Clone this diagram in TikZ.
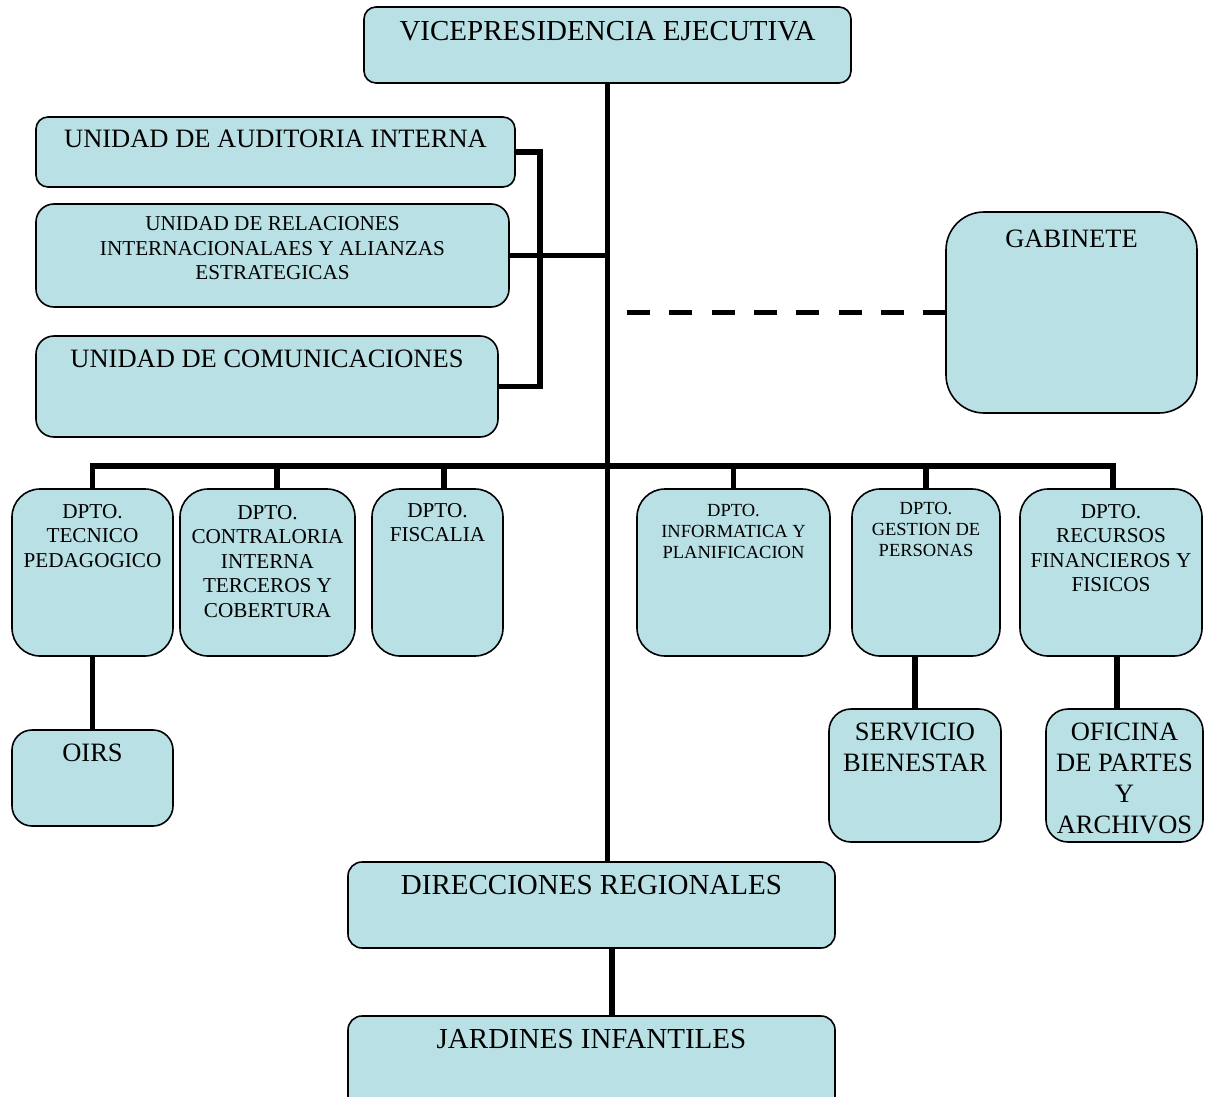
\documentclass[tikz,border=0pt]{standalone}
\usepackage{fontspec}
\setmainfont{Liberation Serif}
\definecolor{boxfill}{RGB}{185,224,228}
\begin{document}
\begin{tikzpicture}[x=1pt,y=-1pt,
  box/.style={draw=black, line width=1.6pt, fill=boxfill, inner sep=0pt, rounded corners=#1},
  box/.default=14pt,
  lbl/.style={anchor=north, inner sep=0pt, align=center, font=#1},
  fA/.style={lbl=\fontsize{29}{33}\selectfont},
  fB/.style={lbl=\fontsize{26.5}{31}\selectfont},
  fC/.style={lbl=\fontsize{21.2}{24.5}\selectfont},
  fD/.style={lbl=\fontsize{18.5}{21}\selectfont},
  conn/.style={draw=black, line width=5.5pt, line join=miter}
]
\useasboundingbox (0,0) rectangle (1205,1097);

% top
\node[box=12pt, minimum width=487pt, minimum height=76pt,
  label={[fA,yshift=-15pt]north:VICEPRESIDENCIA EJECUTIVA}] (vp) at (607.5,45) {};

% staff units
\node[box=12pt, minimum width=479pt, minimum height=70pt,
  label={[fB,yshift=-14pt]north:UNIDAD DE AUDITORIA INTERNA}] (au) at (275.5,152) {};
\node[box=18pt, minimum width=473pt, minimum height=103pt,
  label={[fC,yshift=-13.5pt]north:UNIDAD DE RELACIONES\\INTERNACIONALAES Y ALIANZAS\\ESTRATEGICAS}] (re) at (272.5,255.5) {};
\node[box=18pt, minimum width=462pt, minimum height=101pt,
  label={[fB,yshift=-15pt]north:UNIDAD DE COMUNICACIONES}] (co) at (267,386.5) {};
\node[box=38pt, minimum width=251pt, minimum height=201pt,
  label={[fB,yshift=-19pt]north:GABINETE}] (ga) at (1071.5,312.5) {};

% departments
\node[box=28pt, minimum width=161pt, minimum height=167pt,
  label={[fC,yshift=-16pt]north:DPTO.\\TECNICO\\PEDAGOGICO}] (tp) at (92.5,572.5) {};
\node[box=28pt, minimum width=175pt, minimum height=167pt,
  label={[fC,yshift=-17pt]north:DPTO.\\CONTRALORIA\\INTERNA\\TERCEROS Y\\COBERTURA}] (ci) at (267.5,572.5) {};
\node[box=28pt, minimum width=131pt, minimum height=167pt,
  label={[fC,yshift=-15pt]north:DPTO.\\FISCALIA}] (fi) at (437.5,572.5) {};
\node[box=28pt, minimum width=193pt, minimum height=167pt,
  label={[fD,yshift=-16pt]north:DPTO.\\INFORMATICA Y\\PLANIFICACION}] (ip) at (733.5,572.5) {};
\node[box=28pt, minimum width=148pt, minimum height=167pt,
  label={[fD,yshift=-14pt]north:DPTO.\\GESTION DE\\PERSONAS}] (gp) at (926,572.5) {};
\node[box=28pt, minimum width=182pt, minimum height=167pt,
  label={[fC,yshift=-16pt]north:DPTO.\\RECURSOS\\FINANCIEROS Y\\FISICOS}] (rf) at (1111,572.5) {};

% sub units
\node[box=20pt, minimum width=161pt, minimum height=96pt,
  label={[fB,yshift=-15pt]north:OIRS}] (oi) at (92.5,778) {};
\node[box=22pt, minimum width=172pt, minimum height=133pt,
  label={[fB,yshift=-15pt]north:SERVICIO\\BIENESTAR}] (sb) at (915,775.5) {};
\node[box=22pt, minimum width=157pt, minimum height=133pt,
  label={[lbl=\fontsize{26.5}{30.7}\selectfont,yshift=-15pt]north:OFICINA\\DE PARTES\\Y\\ARCHIVOS}] (op) at (1124.5,775.5) {};

% regional
\node[box=14pt, minimum width=487pt, minimum height=86pt,
  label={[fA,yshift=-14pt]north:DIRECCIONES REGIONALES}] (dr) at (591.5,905) {};
\node[box=14pt, minimum width=487pt, minimum height=94pt,
  label={[fA,yshift=-14pt]north:JARDINES INFANTILES}] (ji) at (591.5,1063) {};

% connectors
\coordinate (bus) at (607,466);
\coordinate (bx) at (540,152);
\coordinate (ds) at (627,312.5);

\draw[conn] (vp.south) -- (vp.south |- dr.north);
\draw[conn] (au.east) -| (bx |- co.east) -- (co.east);
\draw[conn] (re.east) -- (re.east -| vp.south);
\draw[conn, dash pattern=on 23pt off 19.3pt] (ds) -- (ga.west);

\draw[conn] (tp.north) -- (tp.north |- bus) -- ([xshift=2pt]rf.north |- bus) -- ([xshift=2pt]rf.north);
\draw[conn] ([xshift=9.5pt]ci.north) -- ([xshift=9.5pt]ci.north |- bus);
\draw[conn] ([xshift=6.5pt]fi.north) -- ([xshift=6.5pt]fi.north |- bus);
\draw[conn] (ip.north) -- (ip.north |- bus);
\draw[conn] (gp.north) -- (gp.north |- bus);

\draw[conn] (tp.south) -- (oi.north);
\draw[conn] (sb.north |- gp.south) -- (sb.north);
\draw[conn] ([xshift=-7.5pt]op.north |- rf.south) -- ([xshift=-7.5pt]op.north);
\draw[conn] ([xshift=20.5pt]dr.south) -- ([xshift=20.5pt]dr.south |- ji.north);
\end{tikzpicture}
\end{document}
